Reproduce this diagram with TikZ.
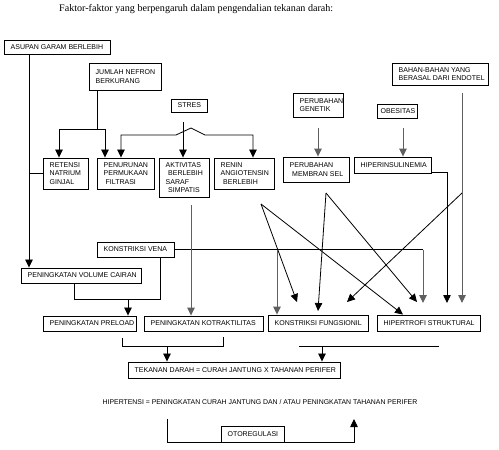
\documentclass[tikz,border=0pt]{standalone}
\usepackage{fontspec}
\newfontfamily\boxfont{Liberation Sans}
\newfontfamily\titlefont{Liberation Serif}
\usetikzlibrary{arrows.meta,shadows}
\newcommand{\mybox}[6]{%
 \pgfmathsetmacro{\mybw}{#4-#2}%
 \pgfmathsetmacro{\mybh}{#5-#3}%
 \node[bx, minimum width=\mybw pt, minimum height=\mybh pt] (#1) at ({(#2+#4)/2},{(#3+#5)/2}) {};
 \node[bxtext] (#1-t) at ({#2+6.5},{(#3+#5)/2}) {#6};}
\tikzset{
 bx/.style={draw, line width=0.9pt, inner sep=0pt, fill=white,
   drop shadow={shadow xshift=0.8pt, shadow yshift=-0.8pt, fill=gray!70, opacity=1}},
 bxtext/.style={anchor=west, inner sep=0pt, align=left,
   font={\boxfont\fontsize{7}{8.4}\selectfont}},
 ln/.style={line width=0.8pt, black},
 gln/.style={line width=0.9pt, gray!75!black},
 arr/.style={ln, -{Triangle[width=7.5pt,length=8pt]}},
 garr/.style={gln, -{Triangle[width=7.5pt,length=8pt]}},
 darr/.style={ln, {Triangle[width=7.5pt,length=8pt]}-{Triangle[width=7.5pt,length=8pt]}},
}
\begin{document}
\begin{tikzpicture}[x=1pt,y=-1pt]
\useasboundingbox[fill=white] (0,0) rectangle (499,450);
\node[anchor=west, inner sep=0pt, font={\titlefont\fontsize{10.1}{12}\selectfont}] (title) at (59,9) {Faktor-faktor yang berpengaruh dalam pengendalian tekanan darah:};

\mybox{asupan}{4}{40}{110}{54}{ASUPAN GARAM BERLEBIH}
\mybox{nefron}{89}{63}{161}{90}{JUMLAH NEFRON\\BERKURANG}
\mybox{stres}{171}{99}{207}{112}{STRES}
\mybox{endotel}{392}{63}{488}{85}{BAHAN-BAHAN YANG\\BERASAL DARI ENDOTEL}
\mybox{genetik}{293}{93}{343}{117}{PERUBAHAN\\GENETIK}
\mybox{obesitas}{377}{104}{417}{118}{\hspace*{-3pt}OBESITAS}
\mybox{retensi}{43}{158}{88}{189}{RETENSI\\NATRIUM\\GINJAL}
\mybox{penurunan}{97}{158}{154}{189}{PENURUNAN\\PERMUKAAN\\\hspace*{2pt}FILTRASI}
\mybox{aktivitas}{159}{158}{209}{197}{AKTIVITAS\\\hspace*{2.5pt}BERLEBIH\\SARAF\\\hspace*{2.5pt}SIMPATIS}
\mybox{renin}{214}{158}{274}{189}{RENIN\\ANGIOTENSIN\\\hspace*{2.5pt}BERLEBIH}
\mybox{membran}{283}{157}{349}{182}{PERUBAHAN\\\hspace*{2.5pt}MEMBRAN SEL}
\mybox{hiperins}{354}{157}{431}{173}{HIPERINSULINEMIA}
\mybox{vena}{97}{242}{174}{257}{KONSTRIKSI VENA}
\mybox{volume}{21}{268}{141}{283}{PENINGKATAN VOLUME CAIRAN}
\mybox{preload}{43}{316}{136}{331}{PENINGKATAN PRELOAD}
\mybox{kotrak}{144}{316}{263}{331}{PENINGKATAN KOTRAKTILITAS}
\mybox{fungsionil}{268}{315}{368}{331}{KONSTRIKSI FUNGSIONIL}
\mybox{hipertrofi}{377}{315}{480}{331}{HIPERTROFI STRUKTURAL}
\mybox{tekanan}{128}{362}{340}{378}{TEKANAN DARAH = CURAH JANTUNG X TAHANAN PERIFER}
\mybox{otoreg}{221}{426}{284}{442}{OTOREGULASI}
\node[inner sep=0pt, font={\boxfont\fontsize{6.9}{8}\selectfont}] (hipertensi) at (260,402) {HIPERTENSI = PENINGKATAN CURAH JANTUNG DAN / ATAU PENINGKATAN TAHANAN PERIFER};

% named free ends
\coordinate (stresout) at (183,122);
\coordinate (gensrc) at (318,128);
\coordinate (obsrc) at (403,128);
\coordinate (endsrc) at (462,93);
\coordinate (aksrc) at (191,205);
\coordinate (rensrc) at (261,204);
\coordinate (memsrc) at (326,193);
\coordinate (endmid) at (462,193);
\coordinate (nefj) at (97,129);

% asupan
\draw[arr] (29,0 |- asupan.south) -- (29,0 |- volume.north);
\draw[ln] (29,0 |- retensi.west) -- (retensi.west);
% nefron
\draw[ln] (97,0 |- nefron.south) -- (nefj);
\draw[ln] (59,129) -- (105,129);
\draw[arr] (59,129) -- (59,0 |- retensi.north);
\draw[arr] (105,129) -- (105,0 |- penurunan.north);
% stres
\draw[arr] (stresout) -- (183,0 |- aktivitas.north);
\draw[darr, line join=miter] (121,0 |- penurunan.north) -- (121,135) -- (176,135) -- (191,128) -- (205,135) -- (253,135) -- (253,0 |- renin.north);
% genetik, obesitas
\draw[garr] (gensrc) -- (318,0 |- membran.north);
\draw[garr] (obsrc) -- (403,0 |- hiperins.north);
% crossing lines
\draw[arr] (rensrc) -- (297,302);
\draw[arr] (rensrc) -- (403,0 |- hipertrofi.north);
\draw[arr] (memsrc) -- (318,311);
\draw[arr] (memsrc) -- (417,302);
\draw[arr] (endmid) -- (347,302);
% hiperinsulinemia
\draw[arr] ([yshift=1.5pt]hiperins.south east) -| (447,303);
% endotel
\draw[garr] (endsrc) -- (462,303);
% konstriksi vena
\draw[ln] (vena.east) -- (423,0 |- vena.east);
\draw[garr] (423,0 |- vena.east) -- (423,303);
\draw[garr] (277,0 |- vena.east) -- (277,0 |- fungsionil.north);
\draw[ln] (74,0 |- volume.south) -- (74,299) -- (160,299) -- (160,0 |- vena.south);
\draw[arr] (128,299) -- (128,0 |- preload.north);
% aktivitas
\draw[garr] (aksrc) -- (191,0 |- kotrak.north);
% brackets
\draw[ln] (122,338) -- (122,346) -- (223,346) -- (223,337);
\draw[arr] (167,346) -- (167,0 |- tekanan.north);
\draw[ln] (299,346) -- (439,346);
\draw[arr] (322,346) -- (322,0 |- tekanan.north);
% otoregulasi
\draw[ln] (167,419) |- (otoreg.south west);
\draw[arr] (otoreg.south east) -| (354,419);
\end{tikzpicture}
\end{document}
